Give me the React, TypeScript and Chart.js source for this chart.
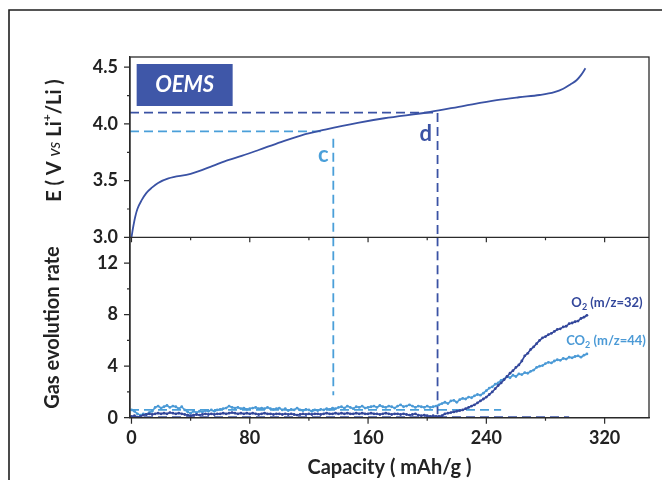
import React, { useEffect, useRef } from 'react';
import { Chart, registerables } from 'chart.js';

Chart.register(...registerables);

const FONT = 'Lato, "Open Sans", sans-serif';
const DARK = '#3a52a4';
const LIGHT = '#4a9fd9';
const O2_COLOR = '#33479b';
const CO2_COLOR = '#4b9ad6';
const AXIS = '#2b2b2b';
const TEXT = '#222222';

// axis ticks
const X_TICKS = [0, 40, 80, 120, 160, 200, 240, 280, 320];
const X_LABELS = [0, 80, 160, 240, 320];
const E_TICKS = [3.0, 3.25, 3.5, 3.75, 4.0, 4.25, 4.5];
const E_LABELS = [3.0, 3.5, 4.0, 4.5];
const G_TICKS = [0, 2, 4, 6, 8, 10, 12];
const G_LABELS = [0, 4, 8, 12];

// voltage profile (capacity mAh/g, E V vs Li+/Li)
const VOLT_CAP = [0, 1, 2.5, 4, 7, 10, 14, 18, 25, 40, 55, 63, 75, 86, 101, 115, 131, 153, 171, 202, 225, 247, 262, 276, 286, 292, 297, 301, 304, 307];
const VOLT = [3.0, 3.08, 3.18, 3.25, 3.33, 3.39, 3.44, 3.48, 3.52, 3.56, 3.63, 3.67, 3.72, 3.77, 3.84, 3.9, 3.95, 4.01, 4.05, 4.105, 4.16, 4.21, 4.235, 4.255, 4.28, 4.31, 4.35, 4.385, 4.43, 4.49];

// gas evolution (sampled every GAS_STEP mAh/g from GAS_START)
const GAS_START = 0;
const GAS_STEP = 2;
const O2 = [
  0.1, 0.15, 0.05, 0.1, 0.2, 0.25, 0.3, 0.25, 0.3, 0.35,
  0.3, 0.35, 0.3, 0.4, 0.35, 0.3, 0.35, 0.3, 0.25, 0.2,
  0.15, 0.2, 0.25, 0.2, 0.25, 0.3, 0.25, 0.3, 0.25, 0.3,
  0.3, 0.35, 0.3, 0.35, 0.4, 0.35, 0.3, 0.35, 0.3, 0.35,
  0.3, 0.35, 0.3, 0.25, 0.3, 0.35, 0.3, 0.3, 0.25, 0.3,
  0.3, 0.25, 0.3, 0.25, 0.3, 0.25, 0.2, 0.25, 0.3, 0.25,
  0.3, 0.25, 0.3, 0.3, 0.25, 0.3, 0.35, 0.3, 0.3, 0.35,
  0.3, 0.35, 0.3, 0.35, 0.3, 0.3, 0.35, 0.3, 0.35, 0.3,
  0.3, 0.35, 0.3, 0.3, 0.25, 0.3, 0.35, 0.3, 0.25, 0.3,
  0.3, 0.25, 0.3, 0.25, 0.2, 0.25, 0.3, 0.2, 0.15, 0.2,
  0.15, 0.1, 0.15, 0.1, 0.1, 0.15, 0.3, 0.35, 0.4, 0.45,
  0.5, 0.55, 0.6, 0.7, 0.8, 0.9, 1.0, 1.15, 1.3, 1.45,
  1.6, 1.8, 2.0, 2.25, 2.5, 2.7, 2.95, 3.2, 3.45, 3.65,
  3.9, 4.1, 4.4, 4.8, 5.0, 5.3, 5.5, 5.75, 6.0, 6.2,
  6.3, 6.45, 6.55, 6.7, 6.85, 6.9, 7.05, 7.1, 7.3, 7.35,
  7.45, 7.5, 7.7, 7.8, 7.95,
];
const CO2 = [
  0.6, 0.5, 0.3, 0.2, 0.3, 0.25, 0.4, 0.5, 0.8, 0.9,
  0.75, 0.85, 0.95, 0.8, 0.9, 0.85, 0.7, 0.85, 0.6, 0.45,
  0.35, 0.5, 0.4, 0.5, 0.45, 0.55, 0.5, 0.6, 0.5, 0.6,
  0.65, 0.7, 0.75, 0.9, 0.8, 0.75, 0.8, 0.7, 0.75, 0.65,
  0.7, 0.75, 0.8, 0.7, 0.75, 0.7, 0.8, 0.7, 0.65, 0.7,
  0.75, 0.6, 0.7, 0.55, 0.65, 0.6, 0.75, 0.6, 0.55, 0.65,
  0.6, 0.5, 0.6, 0.55, 0.65, 0.6, 0.7, 0.65, 0.75, 0.7,
  0.8, 0.85, 0.75, 0.9, 0.8, 0.7, 0.85, 0.8, 0.9, 0.75,
  0.8, 0.85, 0.9, 0.8, 0.95, 0.85, 0.8, 0.9, 0.85, 0.75,
  0.9, 1.0, 0.85, 0.9, 1.0, 0.9, 0.8, 0.9, 0.85, 0.8,
  0.9, 0.8, 0.85, 0.9, 1.0, 1.1, 1.2, 1.1, 1.3, 1.35,
  1.2, 1.4, 1.5, 1.45, 1.6, 1.55, 1.7, 1.8, 1.75, 1.9,
  2.1, 2.3, 2.4, 2.6, 2.7, 2.9, 3.0, 3.2, 3.1, 3.3,
  3.2, 3.4, 3.35, 3.5, 3.45, 3.6, 3.7, 3.9, 4.0, 4.05,
  4.2, 4.3, 4.25, 4.4, 4.5, 4.45, 4.6, 4.55, 4.7, 4.65,
  4.75, 4.8, 4.7, 4.85, 4.95,
];

// marker lines c and d
const C_CAP = 136.5;
const C_VOLT = 3.935;
const C_HLINE_END = 128;
const C_VLINE_TOP = 3.87;
const C_VLINE_GAS_END = 1.75;
const D_CAP = 207;
const D_VOLT = 4.1;
// gas baselines
const CO2_BASE = 0.6;
const CO2_BASE_CAP = [-1, 250];
const O2_BASE = 0.05;
const O2_BASE_CAP = [-1, 296];

const X_MIN = -1;
const X_MAX = 350;
const E_MIN = 3.0;
const E_MAX = 4.59;
const G_MIN = 0;
const G_MAX = 14;

const has = (arr: number[], v: number) => arr.some((a) => Math.abs(a - v) < 1e-6);

type Seg = { text: string; font: string; color: string; dy?: number; w?: number };

function drawRich(ctx: CanvasRenderingContext2D, segs: Seg[], x: number, y: number, rotate: boolean, align: 'center' | 'left') {
  ctx.save();
  ctx.translate(x, y);
  if (rotate) ctx.rotate(-Math.PI / 2);
  let total = 0;
  segs.forEach((s) => {
    ctx.font = s.font;
    s.w = ctx.measureText(s.text).width;
    total += s.w;
  });
  let cx = align === 'center' ? -total / 2 : 0;
  ctx.textBaseline = 'middle';
  ctx.textAlign = 'left';
  segs.forEach((s) => {
    ctx.font = s.font;
    ctx.fillStyle = s.color;
    ctx.fillText(s.text, cx, s.dy || 0);
    cx += s.w || 0;
  });
  ctx.restore();
}

const decorPlugin = {
  id: 'decor',
  beforeDraw(chart: any) {
    const { ctx } = chart;
    ctx.save();
    ctx.fillStyle = '#ffffff';
    ctx.fillRect(0, 0, chart.width, chart.height);
    // outer frame
    ctx.strokeStyle = '#1e1e1e';
    ctx.lineWidth = 1.6;
    ctx.beginPath();
    ctx.moveTo(9, chart.height);
    ctx.lineTo(9, 10);
    ctx.lineTo(chart.width, 10);
    ctx.stroke();
    ctx.restore();
  },
  afterDraw(chart: any) {
    const { ctx, chartArea, scales } = chart;
    const x = scales.x;
    const yE = scales.yE;
    const yG = scales.yG;
    ctx.save();
    // box & divider
    ctx.strokeStyle = AXIS;
    ctx.lineWidth = 1.3;
    ctx.strokeRect(chartArea.left, chartArea.top, chartArea.right - chartArea.left, chartArea.bottom - chartArea.top);
    ctx.beginPath();
    ctx.moveTo(chartArea.left, yE.bottom);
    ctx.lineTo(chartArea.right, yE.bottom);
    ctx.stroke();
    // tick marks
    ctx.lineWidth = 1.2;
    ctx.beginPath();
    X_TICKS.forEach((v) => {
      const px = x.getPixelForValue(v);
      const major = has(X_LABELS, v);
      ctx.moveTo(px, chartArea.bottom);
      ctx.lineTo(px, chartArea.bottom + (major ? 6 : 3));
      ctx.moveTo(px, yE.bottom);
      ctx.lineTo(px, yE.bottom + (major ? 5 : 3));
    });
    E_TICKS.forEach((v) => {
      const py = yE.getPixelForValue(v);
      const major = has(E_LABELS, v);
      ctx.moveTo(chartArea.left, py);
      ctx.lineTo(chartArea.left - (major ? 6 : 3), py);
    });
    G_TICKS.forEach((v) => {
      const py = yG.getPixelForValue(v);
      const major = has(G_LABELS, v);
      ctx.moveTo(chartArea.left, py);
      ctx.lineTo(chartArea.left - (major ? 6 : 3), py);
    });
    ctx.stroke();

    // E axis title
    const B = `bold 20px ${FONT}`;
    drawRich(ctx, [
      { text: 'E ( V ', font: B, color: TEXT },
      { text: 'vs', font: `italic 17px ${FONT}`, color: TEXT },
      { text: ' Li', font: B, color: TEXT },
      { text: '+', font: `bold 12px ${FONT}`, color: TEXT, dy: -8 },
      { text: '/Li )', font: B, color: TEXT },
    ], 55, 140.5, true, 'center');

    // OEMS box
    const bx = x.getPixelForValue(3.5);
    const by = chartArea.top + 7;
    ctx.fillStyle = '#3f57a8';
    ctx.fillRect(bx, by, 96, 42);
    ctx.fillStyle = '#ffffff';
    ctx.font = `italic bold 22px ${FONT}`;
    ctx.textAlign = 'center';
    ctx.textBaseline = 'middle';
    ctx.fillText('OEMS', bx + 48, by + 21);

    // c & d
    ctx.font = `bold 22px ${FONT}`;
    ctx.fillStyle = LIGHT;
    ctx.fillText('c', x.getPixelForValue(129.8), yE.getPixelForValue(3.73));
    ctx.fillStyle = DARK;
    ctx.fillText('d', x.getPixelForValue(199), yE.getPixelForValue(3.915));

    // series labels
    const L = `bold 13px ${FONT}`;
    const S = `bold 9px ${FONT}`;
    drawRich(ctx, [
      { text: 'O', font: L, color: O2_COLOR },
      { text: '2', font: S, color: O2_COLOR, dy: 4 },
      { text: ' (m/z=32)', font: L, color: O2_COLOR },
    ], x.getPixelForValue(297.5), yG.getPixelForValue(8.9), false, 'left');
    drawRich(ctx, [
      { text: 'CO', font: L, color: CO2_COLOR },
      { text: '2', font: S, color: CO2_COLOR, dy: 4 },
      { text: ' (m/z=44)', font: L, color: CO2_COLOR },
    ], x.getPixelForValue(294), yG.getPixelForValue(5.95), false, 'left');
    ctx.restore();
  },
};

const tickFont = { family: FONT, size: 18, weight: 'bold' as const };
const titleFont = { family: FONT, size: 20, weight: 'bold' as const };

export default function App() {
  const ref = useRef<HTMLCanvasElement>(null);
  useEffect(() => {
    if (!ref.current) return;
    const gasPts = (arr: number[]) => arr.map((v, i) => ({ x: GAS_START + i * GAS_STEP, y: v }));
    const dash = [9, 5];
    const chart = new Chart(ref.current, {
      type: 'line',
      data: {
        datasets: [
          {
            label: 'E',
            data: VOLT_CAP.map((c, i) => ({ x: c, y: VOLT[i] })),
            yAxisID: 'yE',
            borderColor: DARK,
            borderWidth: 1.8,
            pointRadius: 0,
            cubicInterpolationMode: 'monotone',
            order: 1,
          },
          {
            label: 'c-h',
            data: [{ x: X_MIN, y: C_VOLT }, { x: C_HLINE_END, y: C_VOLT }],
            yAxisID: 'yE', borderColor: LIGHT, borderWidth: 1.8, borderDash: dash, pointRadius: 0, order: 5,
          },
          {
            label: 'c-v',
            data: [{ x: C_CAP, y: C_VLINE_TOP }, { x: C_CAP, y: E_MIN }],
            yAxisID: 'yE', borderColor: LIGHT, borderWidth: 1.8, borderDash: dash, pointRadius: 0, order: 5,
          },
          {
            label: 'c-v2',
            data: [{ x: C_CAP, y: G_MAX }, { x: C_CAP, y: C_VLINE_GAS_END }],
            yAxisID: 'yG', borderColor: LIGHT, borderWidth: 1.8, borderDash: dash, pointRadius: 0, order: 5,
          },
          {
            label: 'd-h',
            data: [{ x: X_MIN, y: D_VOLT }, { x: D_CAP, y: D_VOLT }, { x: D_CAP, y: E_MIN }],
            yAxisID: 'yE', borderColor: DARK, borderWidth: 1.8, borderDash: dash, pointRadius: 0, order: 5,
          },
          {
            label: 'd-v2',
            data: [{ x: D_CAP, y: G_MAX }, { x: D_CAP, y: G_MIN }],
            yAxisID: 'yG', borderColor: DARK, borderWidth: 1.8, borderDash: dash, pointRadius: 0, order: 5,
          },
          {
            label: 'co2-base',
            data: CO2_BASE_CAP.map((c) => ({ x: c, y: CO2_BASE })),
            yAxisID: 'yG', borderColor: LIGHT, borderWidth: 1.8, borderDash: dash, pointRadius: 0, order: 6,
          },
          {
            label: 'o2-base',
            data: O2_BASE_CAP.map((c) => ({ x: c, y: O2_BASE })),
            yAxisID: 'yG', borderColor: DARK, borderWidth: 1.8, borderDash: dash, pointRadius: 0, order: 6,
          },
          {
            label: 'CO2 (m/z=44)',
            data: gasPts(CO2),
            yAxisID: 'yG',
            borderColor: CO2_COLOR,
            backgroundColor: CO2_COLOR,
            borderWidth: 1.6,
            pointRadius: 1.4,
            pointBorderWidth: 0,
            order: 3,
          },
          {
            label: 'O2 (m/z=32)',
            data: gasPts(O2),
            yAxisID: 'yG',
            borderColor: O2_COLOR,
            backgroundColor: O2_COLOR,
            borderWidth: 1.6,
            pointRadius: 1.4,
            pointBorderWidth: 0,
            order: 2,
          },
        ],
      },
      options: {
        responsive: false,
        animation: false,
        events: [],
        layout: { padding: { left: 0, right: 13, top: 57, bottom: 0 } },
        plugins: { legend: { display: false }, tooltip: { enabled: false } },
        scales: {
          x: {
            type: 'linear',
            min: X_MIN,
            max: X_MAX,
            afterBuildTicks: (s: any) => { s.ticks = X_TICKS.map((v) => ({ value: v })); },
            afterFit: (s: any) => { s.height = 62.3; },
            ticks: {
              autoSkip: false,
              maxRotation: 0,
              padding: 4,
              color: TEXT,
              font: tickFont,
              callback: (v: any) => (has(X_LABELS, Number(v)) ? String(v) : ''),
            },
            grid: { display: true, drawOnChartArea: false, drawTicks: true, tickLength: 6, tickColor: 'transparent' },
            border: { display: true, color: AXIS, width: 1.3 },
            title: { display: true, text: 'Capacity ( mAh/g )', color: TEXT, font: titleFont, padding: { top: 0, bottom: 0 } },
          },
          yG: {
            type: 'linear',
            position: 'left',
            stack: 'panels',
            stackWeight: 1,
            min: G_MIN,
            max: G_MAX,
            afterBuildTicks: (s: any) => { s.ticks = G_TICKS.map((v) => ({ value: v })); },
            afterFit: (s: any) => { s.width = 130; },
            ticks: {
              autoSkip: false,
              padding: 6,
              color: TEXT,
              font: tickFont,
              callback: (v: any) => (has(G_LABELS, Number(v)) ? String(v) : ''),
            },
            grid: { display: true, drawOnChartArea: false, drawTicks: true, tickLength: 6, tickColor: 'transparent' },
            border: { display: true, color: AXIS, width: 1.3 },
            title: { display: true, text: 'Gas evolution rate', color: TEXT, font: titleFont, padding: { top: 41, bottom: 0 } },
          },
          yE: {
            type: 'linear',
            position: 'left',
            stack: 'panels',
            stackWeight: 1,
            min: E_MIN,
            max: E_MAX,
            afterBuildTicks: (s: any) => { s.ticks = E_TICKS.map((v) => ({ value: v })); },
            afterFit: (s: any) => { s.width = 130; },
            ticks: {
              autoSkip: false,
              padding: 6,
              color: TEXT,
              font: tickFont,
              callback: (v: any) => (has(E_LABELS, Number(v)) ? Number(v).toFixed(1) : ''),
            },
            grid: { display: true, drawOnChartArea: false, drawTicks: true, tickLength: 6, tickColor: 'transparent' },
            border: { display: true, color: AXIS, width: 1.3 },
          },
        },
      },
      plugins: [decorPlugin],
    } as any);
    return () => chart.destroy();
  }, []);
  return (
    <div style={{ position: 'absolute', left: 0, top: 0, width: 662, height: 480 }}>
      <canvas ref={ref} width={662} height={480} style={{ display: 'block', width: 662, height: 480 }} />
    </div>
  );
}
